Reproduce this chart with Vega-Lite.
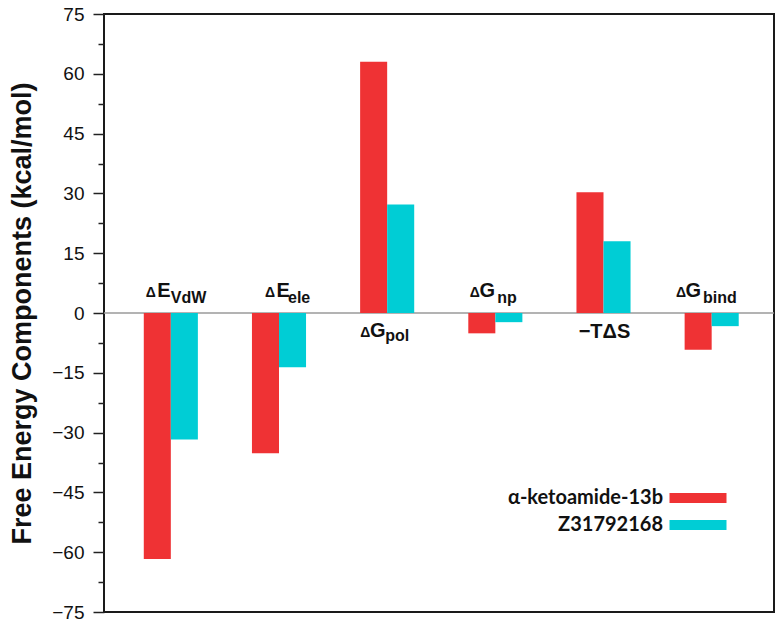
{
  "$schema": "https://vega.github.io/schema/vega-lite/v6.json",
  "width": 670,
  "height": 598,
  "autosize": {"type": "none"},
  "padding": {"left": 104, "top": 14, "right": 6, "bottom": 13},
  "background": "white",
  "config": {"view": {"stroke": "#1a1a1a", "strokeWidth": 2}, "font": "Liberation Sans"},
  "datasets": {
    "bars": [
      {"category": "VdW", "compound": "α-ketoamide-13b", "value": -61.7},
      {"category": "VdW", "compound": "Z31792168", "value": -31.7},
      {"category": "ele", "compound": "α-ketoamide-13b", "value": -35.2},
      {"category": "ele", "compound": "Z31792168", "value": -13.6},
      {"category": "pol", "compound": "α-ketoamide-13b", "value": 63.0},
      {"category": "pol", "compound": "Z31792168", "value": 27.2},
      {"category": "np", "compound": "α-ketoamide-13b", "value": -5.1},
      {"category": "np", "compound": "Z31792168", "value": -2.3},
      {"category": "TdS", "compound": "α-ketoamide-13b", "value": 30.3},
      {"category": "TdS", "compound": "Z31792168", "value": 18.0},
      {"category": "bind", "compound": "α-ketoamide-13b", "value": -9.2},
      {"category": "bind", "compound": "Z31792168", "value": -3.3}
    ],
    "labels": [
      {"category": "VdW", "delta": "Δ", "letter": "E", "sub": "VdW"},
      {"category": "ele", "delta": "Δ", "letter": "E", "sub": "ele"},
      {"category": "pol", "delta": "Δ", "letter": "G", "sub": "pol"},
      {"category": "np", "delta": "Δ", "letter": "G", "sub": "np"},
      {"category": "TdS", "delta": "", "letter": "−TΔS", "sub": ""},
      {"category": "bind", "delta": "Δ", "letter": "G", "sub": "bind"}
    ],
    "zero": [{"value": 0}]
  },
  "resolve": {"axis": {"y": "independent"}},
  "layer": [
    {
      "data": {"name": "zero"},
      "mark": {"type": "rule", "color": "#9a9a9a", "strokeWidth": 1.5},
      "encoding": {
        "y": {
          "field": "value", "type": "quantitative",
          "scale": {"domain": [-75, 75], "nice": false, "zero": false},
          "axis": {
            "orient": "left",
            "values": [-67.5, -52.5, -37.5, -22.5, -7.5, 7.5, 22.5, 37.5, 52.5, 67.5],
            "labels": false, "domain": false, "grid": false, "title": null,
            "ticks": true, "tickSize": 6, "tickWidth": 1.5, "tickColor": "#222"
          }
        }
      }
    },
    {
      "data": {"name": "bars"},
      "mark": {"type": "bar"},
      "encoding": {
        "x": {
          "field": "category", "type": "nominal",
          "scale": {"domain": ["VdW", "ele", "pol", "np", "TdS", "bind"], "paddingInner": 0.5, "paddingOuter": 0.347, "align": 0.53},
          "axis": null
        },
        "xOffset": {
          "field": "compound", "type": "nominal",
          "scale": {"domain": ["α-ketoamide-13b", "Z31792168"], "paddingInner": 0, "paddingOuter": 0}
        },
        "y": {
          "field": "value", "type": "quantitative",
          "scale": {"domain": [-75, 75], "nice": false, "zero": false},
          "axis": {
            "orient": "left",
            "values": [-75, -60, -45, -30, -15, 0, 15, 30, 45, 60, 75],
            "domain": false, "grid": false,
            "tickSize": 11, "tickWidth": 1.5, "tickColor": "#222",
            "labelFontSize": 19, "labelColor": "#111", "labelPadding": 9, "labelFont": "Liberation Sans",
            "labelExpr": "replace(datum.label, '-', '−')",
            "title": "Free Energy Components (kcal/mol)",
            "titleFontSize": 27, "titleFontWeight": "bold", "titleColor": "#111", "titleFont": "Liberation Sans",
            "titleX": -82, "titleY": 299, "titleBaseline": "middle", "titleAngle": -90, "titleAlign": "center"
          }
        },
        "color": {
          "field": "compound", "type": "nominal",
          "scale": {"domain": ["α-ketoamide-13b", "Z31792168"], "range": ["#EF3234", "#00CDD5"]},
          "legend": {
            "orient": "none", "legendX": 584, "legendY": 474, "title": null,
            "symbolType": "M-5.7,-1H5.7V1H-5.7Z", "symbolSize": 100, "symbolStrokeWidth": 0, "symbolOpacity": 1,
            "labelAlign": "right", "labelOffset": -45, "labelFont": "Lato", "labelFontWeight": "bold",
            "labelFontSize": 20, "labelColor": "#111", "labelLimit": 400, "rowPadding": 7, "padding": 0
          }
        }
      }
    },
    {
      "data": {"name": "labels"},
      "transform": [{"filter": "datum.category === 'VdW'"}],
      "layer": [
        {"mark": {"type": "text", "align": "left", "baseline": "alphabetic", "dx": -25, "dy": -16, "fontSize": 14, "fontWeight": "bold", "color": "#111"},
         "encoding": {"x": {"field": "category", "type": "nominal"}, "y": {"datum": 0, "type": "quantitative", "axis": null}, "text": {"field": "delta"}}},
        {"mark": {"type": "text", "align": "left", "baseline": "alphabetic", "dx": -13.5, "dy": -16, "fontSize": 20, "fontWeight": "bold", "color": "#111"},
         "encoding": {"x": {"field": "category", "type": "nominal"}, "y": {"datum": 0, "type": "quantitative", "axis": null}, "text": {"field": "letter"}}},
        {"mark": {"type": "text", "align": "left", "baseline": "alphabetic", "dx": 0, "dy": -10, "fontSize": 16, "fontWeight": "bold", "color": "#111"},
         "encoding": {"x": {"field": "category", "type": "nominal"}, "y": {"datum": 0, "type": "quantitative", "axis": null}, "text": {"field": "sub"}}}
      ]
    },
    {
      "data": {"name": "labels"},
      "transform": [{"filter": "datum.category === 'ele'"}],
      "layer": [
        {"mark": {"type": "text", "align": "left", "baseline": "alphabetic", "dx": -14, "dy": -16, "fontSize": 14, "fontWeight": "bold", "color": "#111"},
         "encoding": {"x": {"field": "category", "type": "nominal"}, "y": {"datum": 0, "type": "quantitative", "axis": null}, "text": {"field": "delta"}}},
        {"mark": {"type": "text", "align": "left", "baseline": "alphabetic", "dx": -2.5, "dy": -16, "fontSize": 20, "fontWeight": "bold", "color": "#111"},
         "encoding": {"x": {"field": "category", "type": "nominal"}, "y": {"datum": 0, "type": "quantitative", "axis": null}, "text": {"field": "letter"}}},
        {"mark": {"type": "text", "align": "left", "baseline": "alphabetic", "dx": 9, "dy": -10, "fontSize": 16, "fontWeight": "bold", "color": "#111"},
         "encoding": {"x": {"field": "category", "type": "nominal"}, "y": {"datum": 0, "type": "quantitative", "axis": null}, "text": {"field": "sub"}}}
      ]
    },
    {
      "data": {"name": "labels"},
      "transform": [{"filter": "datum.category === 'pol'"}],
      "layer": [
        {"mark": {"type": "text", "align": "left", "baseline": "alphabetic", "dx": -26.8, "dy": 24, "fontSize": 14, "fontWeight": "bold", "color": "#111"},
         "encoding": {"x": {"field": "category", "type": "nominal"}, "y": {"datum": 0, "type": "quantitative", "axis": null}, "text": {"field": "delta"}}},
        {"mark": {"type": "text", "align": "left", "baseline": "alphabetic", "dx": -17.2, "dy": 24, "fontSize": 20, "fontWeight": "bold", "color": "#111"},
         "encoding": {"x": {"field": "category", "type": "nominal"}, "y": {"datum": 0, "type": "quantitative", "axis": null}, "text": {"field": "letter"}}},
        {"mark": {"type": "text", "align": "left", "baseline": "alphabetic", "dx": -2, "dy": 28, "fontSize": 16, "fontWeight": "bold", "color": "#111"},
         "encoding": {"x": {"field": "category", "type": "nominal"}, "y": {"datum": 0, "type": "quantitative", "axis": null}, "text": {"field": "sub"}}}
      ]
    },
    {
      "data": {"name": "labels"},
      "transform": [{"filter": "datum.category === 'np'"}],
      "layer": [
        {"mark": {"type": "text", "align": "left", "baseline": "alphabetic", "dx": -25.5, "dy": -16, "fontSize": 14, "fontWeight": "bold", "color": "#111"},
         "encoding": {"x": {"field": "category", "type": "nominal"}, "y": {"datum": 0, "type": "quantitative", "axis": null}, "text": {"field": "delta"}}},
        {"mark": {"type": "text", "align": "left", "baseline": "alphabetic", "dx": -15.9, "dy": -16, "fontSize": 20, "fontWeight": "bold", "color": "#111"},
         "encoding": {"x": {"field": "category", "type": "nominal"}, "y": {"datum": 0, "type": "quantitative", "axis": null}, "text": {"field": "letter"}}},
        {"mark": {"type": "text", "align": "left", "baseline": "alphabetic", "dx": 2, "dy": -10, "fontSize": 16, "fontWeight": "bold", "color": "#111"},
         "encoding": {"x": {"field": "category", "type": "nominal"}, "y": {"datum": 0, "type": "quantitative", "axis": null}, "text": {"field": "sub"}}}
      ]
    },
    {
      "data": {"name": "labels"},
      "transform": [{"filter": "datum.category === 'TdS'"}],
      "mark": {"type": "text", "align": "center", "baseline": "alphabetic", "dx": 1, "dy": 25, "fontSize": 20, "fontWeight": "bold", "color": "#111"},
      "encoding": {"x": {"field": "category", "type": "nominal"}, "y": {"datum": 0, "type": "quantitative", "axis": null}, "text": {"field": "letter"}}
    },
    {
      "data": {"name": "labels"},
      "transform": [{"filter": "datum.category === 'bind'"}],
      "layer": [
        {"mark": {"type": "text", "align": "left", "baseline": "alphabetic", "dx": -35.8, "dy": -16, "fontSize": 14, "fontWeight": "bold", "color": "#111"},
         "encoding": {"x": {"field": "category", "type": "nominal"}, "y": {"datum": 0, "type": "quantitative", "axis": null}, "text": {"field": "delta"}}},
        {"mark": {"type": "text", "align": "left", "baseline": "alphabetic", "dx": -26.2, "dy": -16, "fontSize": 20, "fontWeight": "bold", "color": "#111"},
         "encoding": {"x": {"field": "category", "type": "nominal"}, "y": {"datum": 0, "type": "quantitative", "axis": null}, "text": {"field": "letter"}}},
        {"mark": {"type": "text", "align": "left", "baseline": "alphabetic", "dx": -8.7, "dy": -10, "fontSize": 16, "fontWeight": "bold", "color": "#111"},
         "encoding": {"x": {"field": "category", "type": "nominal"}, "y": {"datum": 0, "type": "quantitative", "axis": null}, "text": {"field": "sub"}}}
      ]
    }
  ]
}
